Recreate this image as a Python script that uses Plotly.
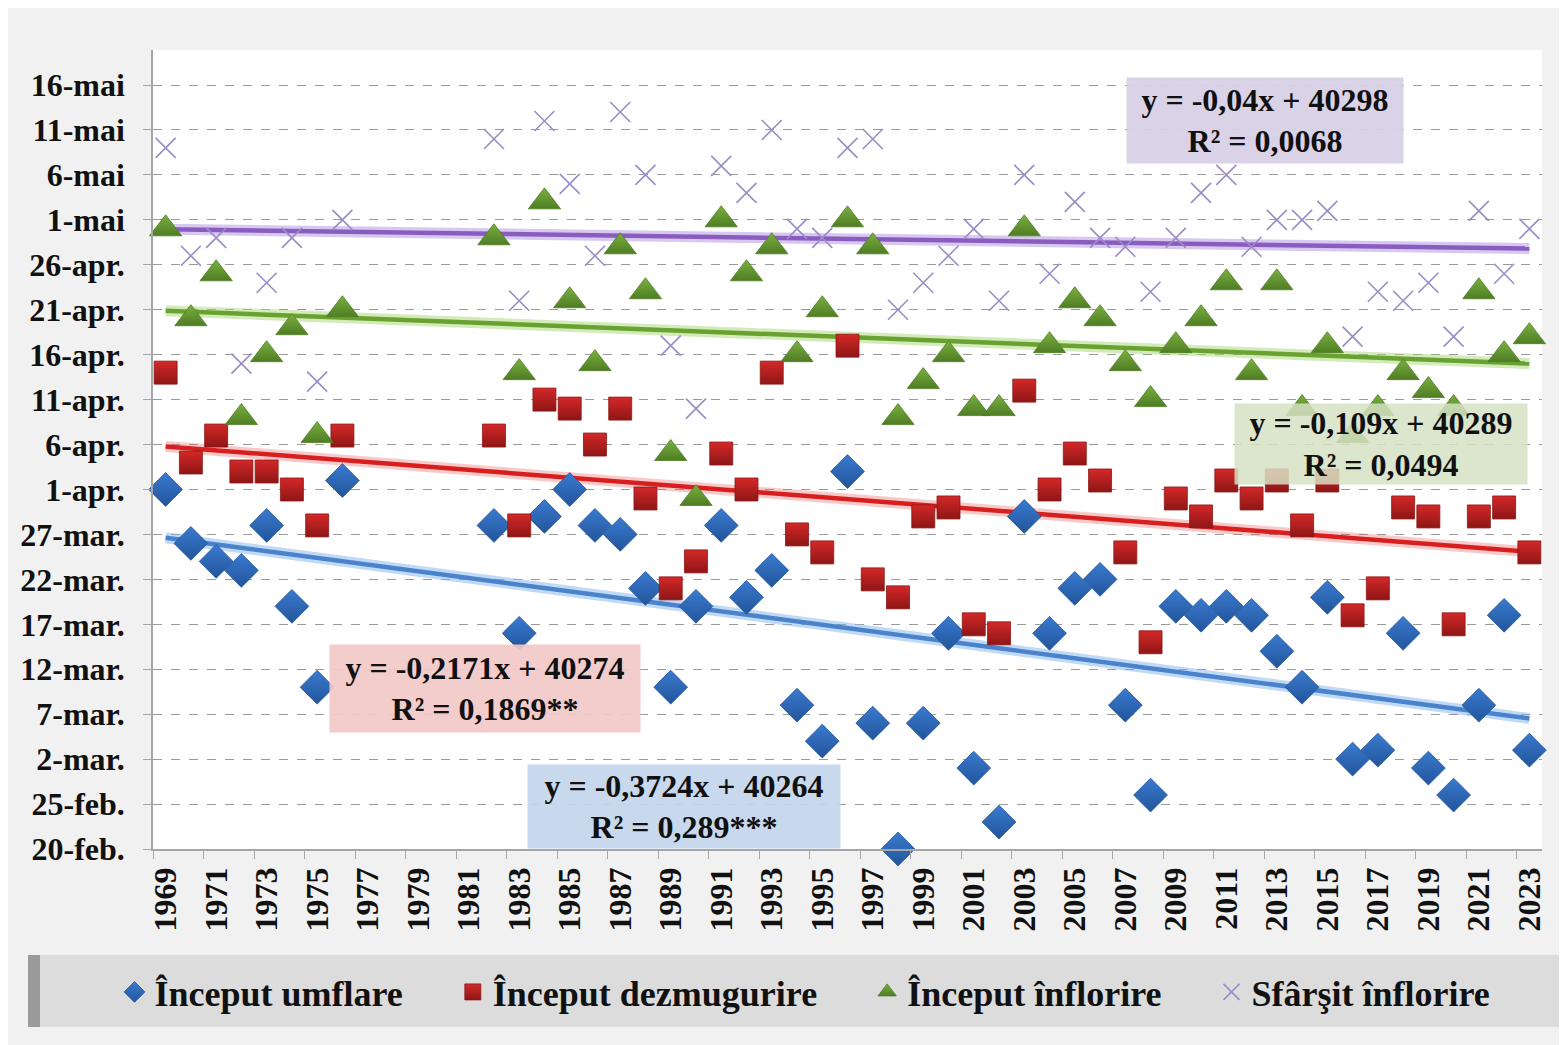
import plotly.graph_objects as go

# ---------------- data ----------------
years = list(range(1969, 2024))

# day of year (non-leap year: 20-feb = 51, 1-apr = 91, 1-mai = 121); None = no observation
inceput_umflare = [91, 85, 83, 82, 87, 78, 69, 92, None, None, None, None, None,
                   87, 75, 88, 91, 87, 86, 80, 69, 78, 87, 79, 82, 67, 63, 93, 65,
                   51, 65, 75, 60, 54, 88, 75, 80, 81, 67, 57, 78, 77, 78, 77, 73,
                   69, 79, 61, 62, 75, 60, 57, 67, 77, 62]
inceput_dezmugurire = [104, 94, 97, 93, 93, 91, 87, 97, None, None, None, None, None,
                       97, 87, 101, 100, 96, 100, 90, 80, 83, 95, 91, 104, 86, 84, 107, 81,
                       79, 88, 89, 76, 75, 102, 91, 95, 92, 84, 74, 90, 88, 92, 90, 92,
                       87, 92, 77, 80, 89, 88, 76, 88, 89, 84]
inceput_inflorire = [120, 110, 115, 99, 106, 109, 97, 111, None, None, None, None, None,
                     119, 104, 123, 112, 105, 118, 113, 95, 90, 121, 115, 118, 106, 111, 121, 118,
                     99, 103, 106, 100, 100, 120, 107, 112, 110, 105, 101, 107, 110, 114, 104, 114,
                     100, 107, 97, 100, 104, 102, 100, 113, 106, 108]
sfarsit_inflorire = [129, 117, 119, 105, 114, 119, 103, 121, None, None, None, None, None,
                     130, 112, 132, 125, 117, 133, 126, 107, 100, 127, 124, 131, 120, 119, 129, 130,
                     111, 114, 117, 120, 112, 126, 115, 123, 119, 118, 113, 119, 124, 126, 118, 121,
                     121, 122, 108, 113, 112, 114, 108, 122, 115, 120]

series_names = ["Început umflare", "Început dezmugurire", "Început înflorire", "Sfârşit înflorire"]

# Excel linear trend equations (x = 1..55, y = Excel date serial)
trend_slopes = [-0.3724, -0.2171, -0.109, -0.04]
trend_intercepts = [40264, 40274, 40289, 40298]
trend_labels = ["y = -0,3724x + 40264<br>R² = 0,289***",
                "y = -0,2171x + 40274<br>R² = 0,1869**",
                "y = -0,109x + 40289<br>R² = 0,0494",
                "y = -0,04x + 40298<br>R² = 0,0068"]
EXCEL_TO_DOY = 40178  # Excel serial of 31-dec-2009 -> day-of-year offset

y_tick_vals = list(range(51, 137, 5))
y_tick_text = ["20-feb.", "25-feb.", "2-mar.", "7-mar.", "12-mar.", "17-mar.", "22-mar.",
               "27-mar.", "1-apr.", "6-apr.", "11-apr.", "16-apr.", "21-apr.", "26-apr.",
               "1-mai", "6-mai", "11-mai", "16-mai"]
x_tick_vals = list(range(1969, 2024, 2))

# ---------------- styling ----------------
FONT = "Liberation Serif, Times New Roman, serif"
colors = ["#3a7ad0", "#d42828", "#7ab040", "#9a8cc6"]
line_colors = ["#4a82cc", "#d81e1e", "#6aa232", "#8a5cc0"]
glow_colors = ["rgba(130,180,235,0.5)", "rgba(235,100,100,0.35)",
               "rgba(165,215,115,0.5)", "rgba(175,145,225,0.5)"]
edge_colors = ["#22559a", "#8e1616", "#4f7d24", "#9a8cc6"]
symbols = ["diamond", "square", "triangle-up", "x-thin-open"]
sizes = [26, 23, 28, 20]
data_series = [inceput_umflare, inceput_dezmugurire, inceput_inflorire, sfarsit_inflorire]
LEG_PAD = "\u00a0" * 5

fig = go.Figure()

# trend lines (glow + line)
idx = list(range(1, len(years) + 1))
for k in range(4):
    ty = [trend_slopes[k] * i + trend_intercepts[k] - EXCEL_TO_DOY for i in idx]
    fig.add_trace(go.Scatter(x=years, y=ty, mode="lines", showlegend=False, hoverinfo="skip",
                             line=dict(color=glow_colors[k], width=11)))
    fig.add_trace(go.Scatter(x=years, y=ty, mode="lines", showlegend=False, hoverinfo="skip",
                             line=dict(color=line_colors[k], width=4.5)))

# markers
for k in range(4):
    if symbols[k] == "x-thin-open":
        marker = dict(symbol=symbols[k], size=sizes[k], color=colors[k],
                      line=dict(color=colors[k], width=1.6))
    else:
        marker = dict(symbol=symbols[k], size=sizes[k], color=colors[k],
                      gradient=dict(type="vertical", color=edge_colors[k]),
                      line=dict(color=edge_colors[k], width=0.8))
    name = series_names[k] + (LEG_PAD if k < 3 else "")
    fig.add_trace(go.Scatter(x=years, y=data_series[k], mode="markers", name=name,
                             marker=marker, cliponaxis=False))

# ---------------- layout helpers (page pixel -> paper) ----------------
OFF = 8  # page body margin
FW, FH = 1567 - OFF, 1045 - OFF
PL, PR, PT, PB = 153, 1542, 50, 849  # plot area in page pixels
def px(x):
    return (x - PL) / (PR - PL)
def py(y):
    return (PB - y) / (PB - PT)

# equation boxes: (center x, center y, width, height, fill) in page pixels
boxes = [
    (684, 806, 312, 83, "rgba(196,214,236,0.92)"),
    (485, 688, 310, 87, "rgba(242,200,200,0.92)"),
    (1381, 444, 292, 80, "rgba(214,226,196,0.85)"),
    (1265, 120, 276, 85, "rgba(216,208,230,0.95)"),
]
annotations = []
for k in range(4):
    cx, cy, w, h, fill = boxes[k]
    annotations.append(dict(x=px(cx), y=py(cy), xref="paper", yref="paper",
                            text="<b>" + trend_labels[k] + "</b>", showarrow=False,
                            font=dict(family=FONT, size=32, color="#111111"),
                            bgcolor=fill, width=w, height=h, align="center",
                            xanchor="center", yanchor="middle", borderpad=0))

shapes = [
    # legend background
    dict(type="rect", xref="paper", yref="paper", x0=px(28), x1=px(1567), y0=py(1027), y1=py(955),
         fillcolor="#dcdcdc", line=dict(width=0), layer="below"),
    dict(type="rect", xref="paper", yref="paper", x0=px(28), x1=px(40), y0=py(1027), y1=py(955),
         fillcolor="#9a9a9a", line=dict(width=0), layer="below"),
]

fig.update_layout(
    width=FW, height=FH,
    margin=dict(l=PL - OFF, r=FW - (PR - OFF), t=PT - OFF, b=FH - (PB - OFF)),
    paper_bgcolor="#f1f1f1", plot_bgcolor="#ffffff",
    font=dict(family=FONT, color="#111111"),
    showlegend=True,
    legend=dict(orientation="h", x=px(805), xanchor="center", y=py(992), yanchor="middle",
                font=dict(family=FONT, size=36, weight="bold", color="#111111"),
                bgcolor="rgba(0,0,0,0)", itemsizing="trace", itemwidth=30,
                traceorder="normal"),
    annotations=annotations,
    shapes=shapes,
)

fig.update_xaxes(range=[1968.5, 2023.5], tickmode="array", tickvals=x_tick_vals,
                 ticktext=[str(v) for v in x_tick_vals], tickangle=-90,
                 tickfont=dict(family=FONT, size=32, weight="bold", color="#111111"),
                 showgrid=False, zeroline=False, showline=True, linecolor="#a6a6a6", linewidth=1.5,
                 ticks="", ticklabelstandoff=4,
                 minor=dict(tickmode="array", tickvals=[y - 0.5 for y in range(1969, 2025, 2)],
                            ticks="outside", ticklen=8, tickcolor="#a6a6a6", showgrid=False))

fig.update_yaxes(range=[51, 51 + (PB - PT) / 8.988], tickmode="array", tickvals=y_tick_vals,
                 ticktext=y_tick_text,
                 tickfont=dict(family=FONT, size=32, weight="bold", color="#111111"),
                 showgrid=True, gridcolor="#9a9a9a", griddash="dash", gridwidth=1,
                 zeroline=False, showline=True, linecolor="#a6a6a6", linewidth=1.5,
                 ticks="outside", ticklen=8, tickcolor="#a6a6a6", ticklabelstandoff=12)

fig.write_html("out.html")
